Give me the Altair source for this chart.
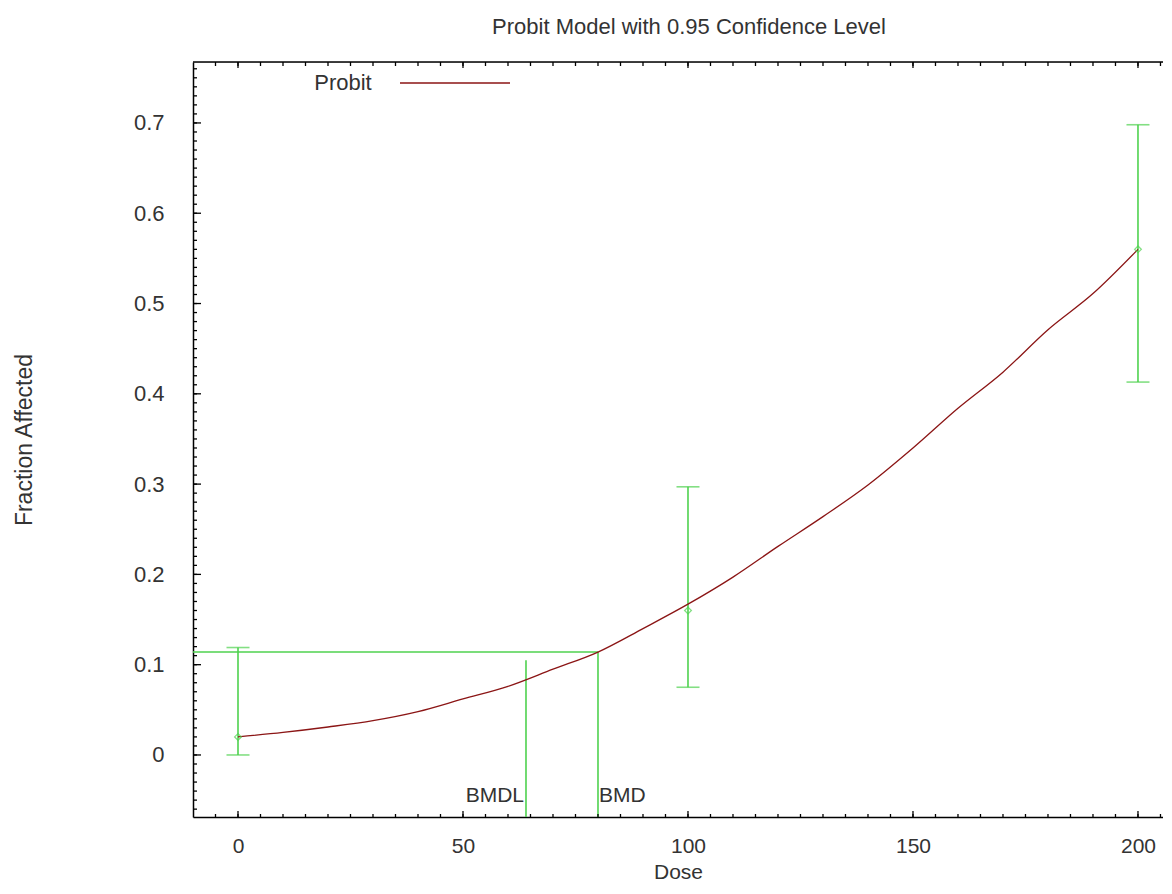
import altair as alt
import pandas as pd

# ---- data ----
obs_dose = [0, 100, 200]
obs_frac = [0.020, 0.160, 0.560]
ci_low = [0.000, 0.075, 0.413]
ci_high = [0.119, 0.297, 0.698]

curve_dose = [0, 10, 20, 30, 40, 50, 60, 70, 80, 90, 100, 110, 120, 130, 140, 150, 160, 170, 180, 190, 200]
curve_frac = [0.020, 0.025, 0.031, 0.038, 0.048, 0.062, 0.076, 0.095, 0.114, 0.140, 0.167, 0.197,
              0.231, 0.264, 0.299, 0.340, 0.384, 0.424, 0.471, 0.511, 0.560]

bmd = 80
bmdl = 64
bmr_level = 0.114
bmdl_top = 0.105

x_major = [0, 50, 100, 150, 200]
x_minor = list(range(-5, 206, 5))
y_major = [0.0, 0.1, 0.2, 0.3, 0.4, 0.5, 0.6, 0.7]
y_minor = [round(-0.06 + 0.01 * i, 2) for i in range(83)]

# ---- layout ----
W, H = 970, 755
XDOM = [-10, 205.56]
YDOM = [-0.0687, 0.7675]
GREEN = "#4fd24f"
RED = "#8b1515"
TXT = "#333333"
FONT = "Liberation Sans"

xs = alt.Scale(domain=XDOM, nice=False, zero=False)
ys = alt.Scale(domain=YDOM, nice=False, zero=False)

curve_df = pd.DataFrame({"dose": curve_dose, "frac": curve_frac})
obs_df = pd.DataFrame({"dose": obs_dose, "frac": obs_frac, "lo": ci_low, "hi": ci_high})

curve = alt.Chart(curve_df).mark_line(color=RED, strokeWidth=1.3, interpolate="monotone").encode(
    x=alt.X("dose:Q", scale=xs, axis=alt.Axis(
        values=x_major, ticks=False, grid=False, domain=True, domainColor="black", domainWidth=1.5,
        labelFontSize=21, labelColor=TXT, labelFont=FONT, labelPadding=18,
        title="Dose", titleFontSize=21, titleFont=FONT, titleColor=TXT, titleFontWeight="normal",
        titleY=55, titleBaseline="middle")),
    y=alt.Y("frac:Q", scale=ys, axis=alt.Axis(
        values=y_major, ticks=False, grid=False, domain=True, domainColor="black", domainWidth=1.5,
        labelFontSize=22, labelColor=TXT, labelFont=FONT, labelPadding=29,
        labelExpr="datum.value == 0 ? '0' : format(datum.value, '.1f')",
        title="Fraction Affected", titleFontSize=23, titleFont=FONT, titleColor=TXT,
        titleFontWeight="normal", titleX=-169, titleBaseline="middle", titleAngle=-90)),
)

err = alt.Chart(obs_df).mark_rule(color=GREEN, strokeWidth=1.6).encode(
    x="dose:Q", y="lo:Q", y2="hi:Q")
cap_lo = alt.Chart(obs_df).mark_tick(color=GREEN, orient="horizontal", size=23, thickness=1.6).encode(
    x="dose:Q", y="lo:Q")
cap_hi = alt.Chart(obs_df).mark_tick(color=GREEN, orient="horizontal", size=23, thickness=1.6).encode(
    x="dose:Q", y="hi:Q")
pts = alt.Chart(obs_df).mark_point(shape="diamond", filled=False, color=GREEN, size=45, strokeWidth=1.3).encode(
    x="dose:Q", y="frac:Q")

bmd_df = pd.DataFrame({
    "x": [XDOM[0], bmd, bmdl],
    "x2": [bmd, bmd, bmdl],
    "y": [bmr_level, YDOM[0], YDOM[0]],
    "y2": [bmr_level, bmr_level, bmdl_top],
})
bmd_lines = alt.Chart(bmd_df).mark_rule(color=GREEN, strokeWidth=1.6).encode(
    x="x:Q", x2="x2:Q", y="y:Q", y2="y2:Q")

lab_df = pd.DataFrame({"x": [bmdl, bmd], "label": ["BMDL", "BMD"]})
lab_l = alt.Chart(lab_df[lab_df.label == "BMDL"]).mark_text(
    align="right", baseline="middle", fontSize=21, font=FONT, color=TXT, dx=-2).encode(
    x="x:Q", y=alt.value(734), text="label:N")
lab_r = alt.Chart(lab_df[lab_df.label == "BMD"]).mark_text(
    align="left", baseline="middle", fontSize=21, font=FONT, color=TXT, dx=1).encode(
    x="x:Q", y=alt.value(734), text="label:N")

# frame ticks (inward)
def ticks_x(vals, y0, y1):
    return alt.Chart(pd.DataFrame({"v": vals})).mark_rule(color="black", strokeWidth=1.3).encode(
        x="v:Q", y=alt.value(y0), y2=alt.value(y1))

def ticks_y(vals, x0, x1):
    return alt.Chart(pd.DataFrame({"v": vals})).mark_rule(color="black", strokeWidth=1.3).encode(
        y="v:Q", x=alt.value(x0), x2=alt.value(x1))

tb_minor = ticks_x(x_minor, H, H - 3)
tb_major = ticks_x(x_major, H, H - 6)
tt_minor = ticks_x(x_minor, 0, 4)
tt_major = ticks_x(x_major, 0, 6)
tl_minor = ticks_y(y_minor, 0, 4)
tl_major = ticks_y(y_major, 0, 8)

top_border = alt.Chart(pd.DataFrame({"a": [0]})).mark_rule(color="black", strokeWidth=1.5).encode(
    x=alt.value(0), x2=alt.value(W), y=alt.value(0))

legend_df = pd.DataFrame({"label": ["Probit"]})
leg_text = alt.Chart(legend_df).mark_text(
    align="center", baseline="middle", fontSize=22, font=FONT, color=TXT).encode(
    x=alt.value(150), y=alt.value(21), text="label:N")
leg_line = alt.Chart(legend_df).mark_rule(color=RED, strokeWidth=1.5).encode(
    x=alt.value(207), x2=alt.value(317), y=alt.value(21))

chart = alt.layer(
    bmd_lines, err, cap_lo, cap_hi, curve, pts, lab_l, lab_r,
    tb_minor, tb_major, tt_minor, tt_major, tl_minor, tl_major, top_border,
    leg_text, leg_line,
).properties(
    width=W, height=H,
    title=alt.TitleParams("Probit Model with 0.95 Confidence Level", fontSize=22, font=FONT,
                          color=TXT, fontWeight="normal", anchor="middle", offset=22, dx=11),
    autosize=alt.AutoSizeParams(type="none"),
    padding={"left": 185, "top": 54, "right": 0, "bottom": 72},
).configure_view(stroke=None).configure(background="white")

chart.save("out.html", embed_options={"renderer": "svg", "actions": False})
